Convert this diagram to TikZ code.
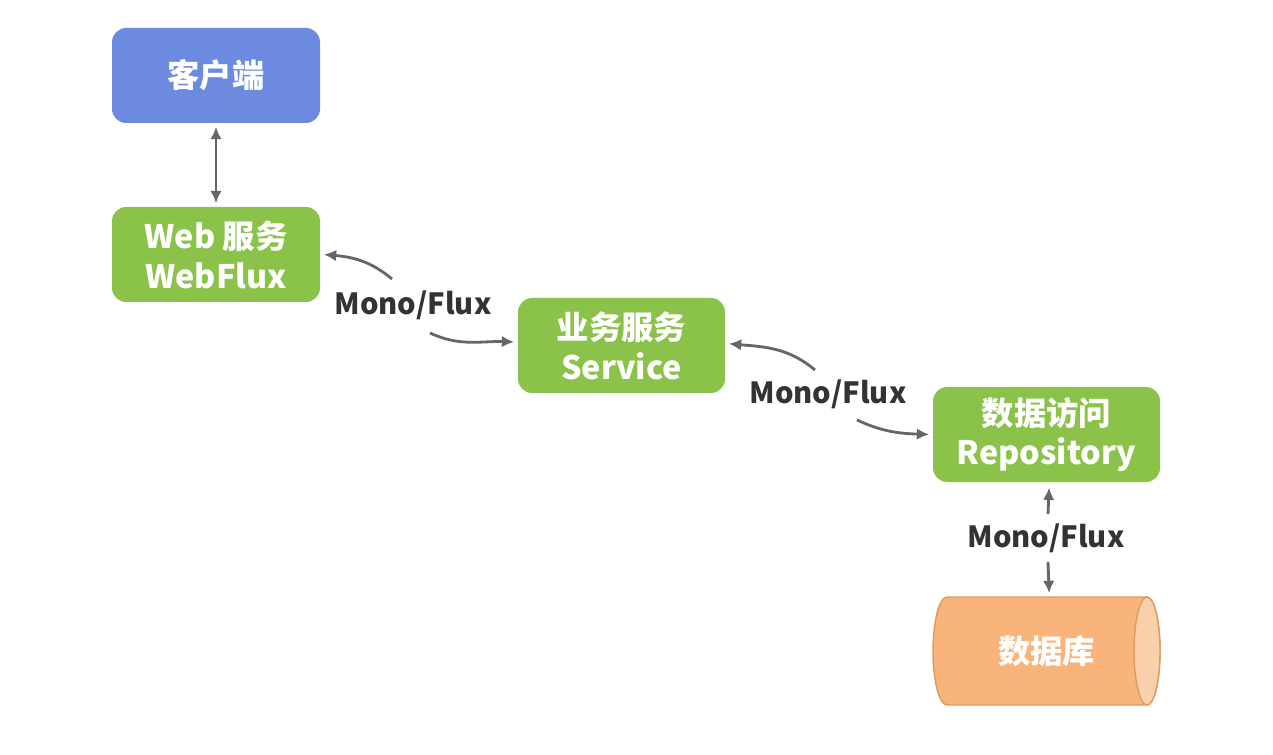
\documentclass[tikz,border=0pt]{standalone}
\usepackage{fontspec}
\setmainfont{Noto Sans CJK SC}
\usetikzlibrary{arrows.meta}
\definecolor{cblue}{HTML}{6C8BE0}
\definecolor{cgreen}{HTML}{8BC34A}
\definecolor{corange}{HTML}{F8B47A}
\definecolor{corangeL}{HTML}{FAD0AC}
\definecolor{corangeD}{HTML}{E0995F}
\definecolor{cline}{HTML}{666666}
\definecolor{ctext}{HTML}{333333}
\begin{document}
\begin{tikzpicture}[x=0.02cm,y=0.02cm,
  box/.style={rectangle,rounded corners=8pt,draw=none,text=white,
    font=\fontsize{18.4pt}{22.7pt}\selectfont\bfseries,align=center,inner sep=0pt},
  lbl/.style={text=ctext,font=\fontsize{16.6pt}{20pt}\selectfont\bfseries,inner sep=1pt},
  conn/.style={draw=cline,line width=1.6pt,-{Latex[length=7pt,width=6.5pt]}},
  conn2/.style={draw=cline,line width=1.6pt,{Latex[length=7pt,width=6.5pt]}-{Latex[length=7pt,width=6.5pt]}}]
\useasboundingbox (0,0) rectangle (1273,754);
\fill[white] (0,0) rectangle (1273,754);
% boxes
\node[box,fill=cblue,minimum width=208*0.02cm,minimum height=95*0.02cm] (client) at (216,678.5) {客户端};
\node[box,fill=cgreen,minimum width=208*0.02cm,minimum height=95*0.02cm] (web) at (216,499.5) {Web 服务\\WebFlux};
\node[box,fill=cgreen,minimum width=207*0.02cm,minimum height=95*0.02cm] (svc) at (621.5,408.5) {业务服务\\Service};
\node[box,fill=cgreen,minimum width=227*0.02cm,minimum height=95*0.02cm] (repo) at (1046.5,319.5) {数据访问\\Repository};
% database cylinder
\filldraw[fill=corange,draw=corangeD,line width=0.8pt]
  (947,49) -- (1147,49) arc[start angle=-90,end angle=90,x radius=13,y radius=54]
  -- (947,157) arc[start angle=90,end angle=270,x radius=14,y radius=54] -- cycle;
\filldraw[fill=corangeL,draw=corangeD,line width=0.8pt] (1147,103) ellipse[x radius=13,y radius=54];
\node[box,minimum width=227*0.02cm,minimum height=108*0.02cm] (db) at (1046.5,103) {数据库};
% labels
\node[lbl] (l1) at (413,449) {Mono/Flux};
\node[lbl] (l2) at (828,360) {Mono/Flux};
\node[lbl] (l3) at (1046,216) {Mono/Flux};
\coordinate (a1) at (392,475);
\coordinate (b1) at (430,421);
\coordinate (a2) at (815,384);
\coordinate (b2) at (857,334);
\coordinate (a3) at (1048,240);
\coordinate (b3) at (1048,192);
% connectors
\draw[conn2] ([yshift=-2]client.south) -- ([yshift=2]web.north);
\draw[conn] (a1) to[out=140,in=-5] ([xshift=2]web.east);
\draw[conn] (b1) to[out=-25,in=178] ([xshift=-2,yshift=2]svc.west);
\draw[conn] (a2) to[out=140,in=-5] ([xshift=2,yshift=1]svc.east);
\draw[conn] (b2) to[out=-25,in=178] ([xshift=-2]repo.west);
\draw[conn] (a3) -- ([xshift=1.5,yshift=-3]repo.south);
\draw[conn] (b3) -- ([xshift=1.5,yshift=2]db.north);
\end{tikzpicture}
\end{document}
